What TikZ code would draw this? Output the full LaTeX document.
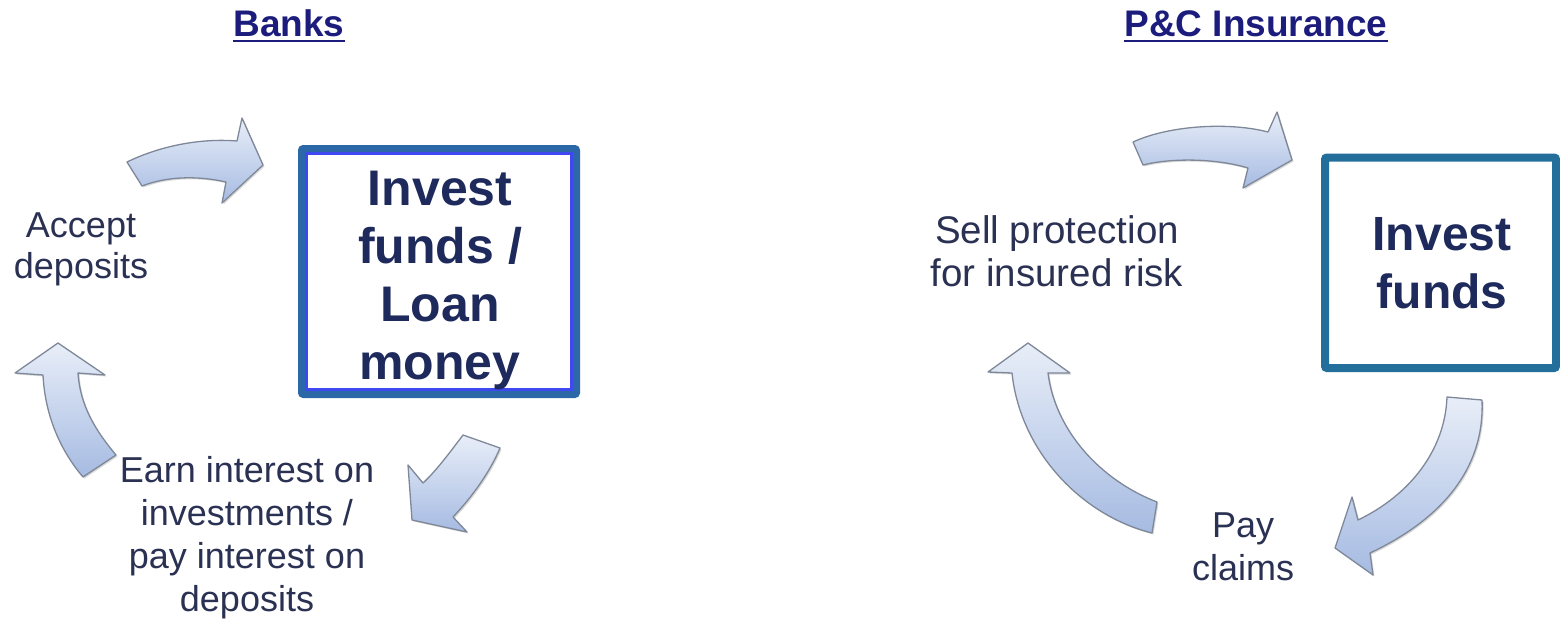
\documentclass[tikz,border=0pt]{standalone}
\usepackage{fontspec}
\setmainfont{Liberation Sans}
\usetikzlibrary{shadows}

\definecolor{titleblue}{HTML}{1C1C7C}
\definecolor{boxtext}{HTML}{1E2A5C}
\definecolor{labeltext}{HTML}{2A3152}
\definecolor{bankframe}{HTML}{2C67A7}
\definecolor{bankinner}{HTML}{4048F2}
\definecolor{insframe}{HTML}{236E9B}
\definecolor{arrowtop}{HTML}{E8EEF8}
\definecolor{arrowbot}{HTML}{A6BBE2}
\definecolor{arrowline}{HTML}{7E8898}

\tikzset{
  cyclearrow/.style={top color=arrowtop, bottom color=arrowbot, draw=arrowline,
    line width=1.3pt, line join=round,
    drop shadow={shadow xshift=1.5pt, shadow yshift=-1.5pt, opacity=0.25, fill=black!60}},
  heading/.style={inner sep=0pt, anchor=base, text=titleblue,
    font=\fontsize{37}{44}\selectfont\bfseries},
  headline/.style={titleblue, line width=2.6pt},
  % multi-line labels are placed by the baseline of their last line
  boxlabel/.style={inner sep=0pt, anchor=base, align=center, text=boxtext,
    font=\fontsize{50}{58}\selectfont\bfseries},
  steplabel/.style={inner sep=0pt, anchor=base, align=center, text=labeltext,
    font=\fontsize{36}{43}\selectfont},
}

\begin{document}
\begin{tikzpicture}[x=1pt, y=-1pt]
\useasboundingbox (0,0) rectangle (1560,619);

% ---------------- Banks ----------------
\node[heading] (banks) at (289,36) {Banks};
\draw[headline] ([yshift=-5pt]banks.base west) -- ([yshift=-5pt]banks.base east);

% frame around the central activity
\node[draw=bankframe, line width=7pt, rounded corners=2pt, minimum width=275pt,
      minimum height=246pt, inner sep=0pt] (bankbox) at (439,271.5) {};
\draw[bankinner, line width=2.5pt] (306.5,153.5) rectangle (571.5,389.5);
\node[boxlabel] (invest) at (440,379) {Invest\\funds /\\Loan\\money};

\node[steplabel, font=\fontsize{36}{41}\selectfont] (accept) at (81,278) {Accept\\deposits};
\node[steplabel] (earn) at (247,611) {Earn interest on\\investments /\\pay interest on\\deposits};

% curved block arrows of the bank cycle
\path[cyclearrow] (127,162) .. controls (160,146) and (200,138) .. (237,141)
  -- (242,118) -- (263,165) -- (222,203) -- (226,182)
  .. controls (195,175) and (165,177) .. (142,186) -- cycle;
\path[cyclearrow] (58,343) -- (15,373) -- (43,375)
  .. controls (45,415) and (60,450) .. (83,477) -- (116,455)
  .. controls (95,430) and (80,405) .. (78,373) -- (105,375) -- cycle;
\path[cyclearrow] (463,435) .. controls (448,455) and (435,472) .. (423,483)
  -- (408,465) -- (412,520) -- (467,532) -- (453,517)
  .. controls (472,497) and (490,472) .. (500,448) -- cycle;

% ---------------- P&C Insurance ----------------
\node[heading] (pc) at (1256,36) {P\&C Insurance};
\draw[headline] ([yshift=-5pt]pc.base west) -- ([yshift=-5pt]pc.base east);

\node[draw=insframe, line width=8pt, rounded corners=2pt, minimum width=231pt,
      minimum height=210.5pt, inner sep=0pt] (insbox) at (1440.5,262.75) {};
\node[boxlabel, font=\fontsize{48}{58}\selectfont\bfseries] (investfunds) at (1442,308) {Invest\\funds};

\node[steplabel, font=\fontsize{38.5}{43}\selectfont] (sell) at (1057,286) {Sell protection\\for insured risk};
\node[steplabel] (pay) at (1243,580) {Pay\\claims};

% curved block arrows of the insurance cycle
\path[cyclearrow] (1133,142) .. controls (1170,125) and (1230,122) .. (1268,132)
  -- (1277,112) -- (1292,160) -- (1243,188) -- (1248,168)
  .. controls (1215,158) and (1170,158) .. (1143,165) -- cycle;
\path[cyclearrow] (1028,343) -- (988,372) -- (1012,373)
  .. controls (1020,450) and (1080,515) .. (1152,533) -- (1157,502)
  .. controls (1100,480) and (1055,430) .. (1048,373) -- (1070,373) -- cycle;
\path[cyclearrow] (1447,397) .. controls (1445,450) and (1410,495) .. (1358,520)
  -- (1352,497) -- (1335,548) -- (1373,575) -- (1370,553)
  .. controls (1440,520) and (1485,470) .. (1482,400) -- cycle;
\end{tikzpicture}
\end{document}
